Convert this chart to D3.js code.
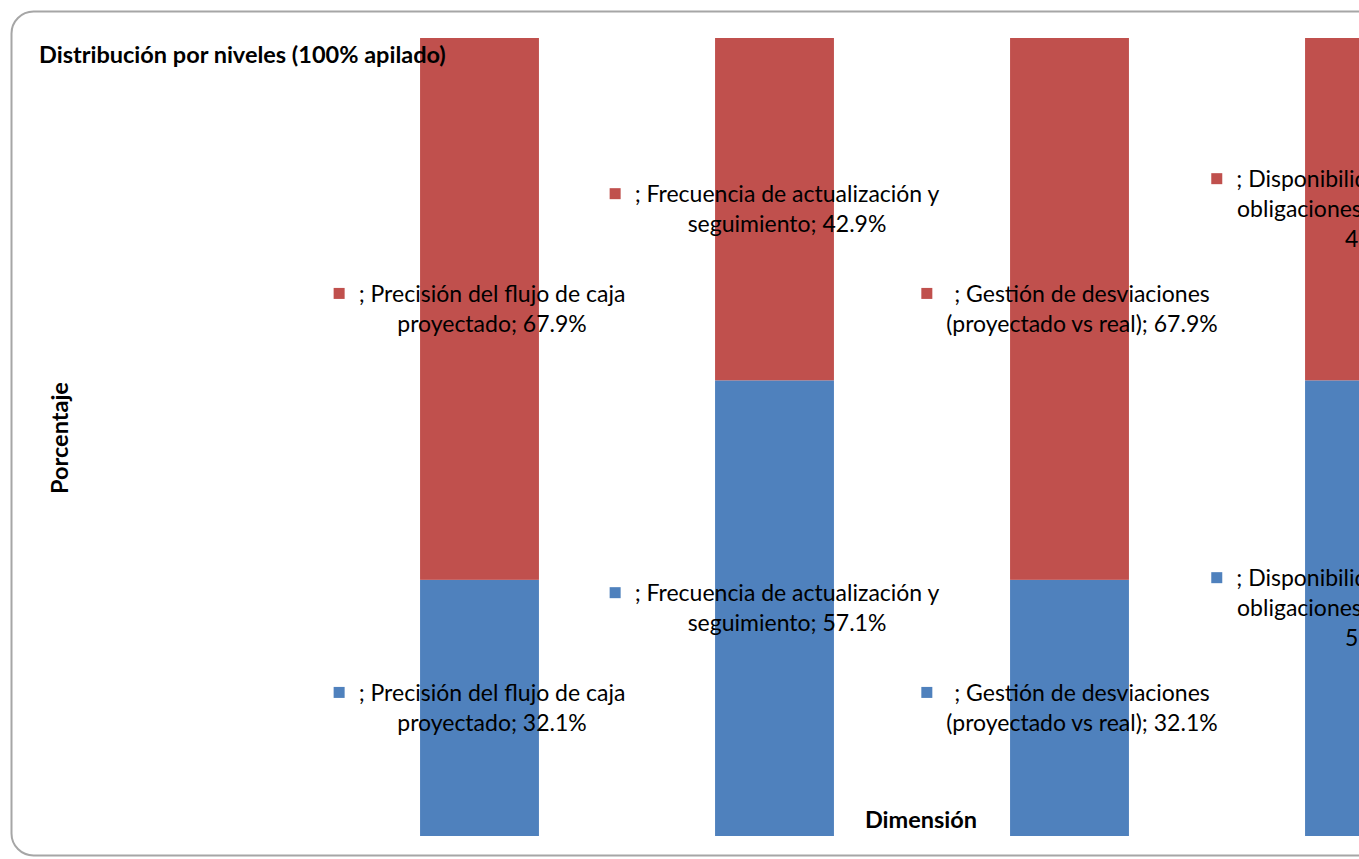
<!DOCTYPE html>
<html>
<head>
<meta charset="utf-8">
<script src="https://cdn.jsdelivr.net/npm/d3@7"></script>
<style>
  html, body { margin: 0; padding: 0; background: #fff; overflow: hidden; }
  svg { display: block; }
</style>
</head>
<body>
<div id="chart"></div>
<script>
// datos
const categories = [
  "Precisión del flujo de caja proyectado",
  "Frecuencia de actualización y seguimiento",
  "Gestión de desviaciones (proyectado vs real)",
  "Disponibilidad de caja para obligaciones de corto plazo"
];
const seriesNames = ["", ""];           // the series have no names, labels start with "; "
const lowValues = [32.1, 57.1, 32.1, 57.1];   // blue
const highValues = [67.9, 42.9, 67.9, 42.9];  // red
const colors = ["#4F81BD", "#C0504D"];

const width = 1359, height = 859;
const font = "Lato, 'Noto Sans', sans-serif";

const svg = d3.select("#chart").append("svg")
  .attr("width", width)
  .attr("height", height);

// marco redondeado
svg.append("rect")
  .attr("x", 11.5).attr("y", 11.5)
  .attr("width", 1420).attr("height", 844)
  .attr("rx", 22).attr("ry", 22)
  .attr("fill", "#fff")
  .attr("stroke", "#a6a6a6")
  .attr("stroke-width", 2);

const x = d3.scaleBand()
  .domain(categories)
  .range([332, 332 + 4 * 295])
  .paddingInner(0.597)
  .paddingOuter(0.2985);

const y = d3.scaleLinear().domain([0, 100]).range([836, 38]);

const rows = categories.map((c, i) => ({cat: c, low: lowValues[i], high: highValues[i]}));
const stack = d3.stack().keys(["low", "high"]);
const layers = stack(rows);

svg.append("g").selectAll("g")
  .data(layers)
  .join("g")
  .attr("fill", (d, i) => colors[i])
  .selectAll("rect")
  .data(d => d)
  .join("rect")
  .attr("x", d => x(d.data.cat))
  .attr("width", x.bandwidth())
  .attr("y", d => y(d[1]))
  .attr("height", d => y(d[0]) - y(d[1]));

// etiquetas de datos con clave de leyenda
const labelSize = 23;
const lineH = 30;
const maxW = 308;

const measure = svg.append("text")
  .attr("font-family", font).attr("font-size", labelSize)
  .attr("visibility", "hidden");
function textW(s) { measure.text(s); return measure.node().getComputedTextLength(); }

function wrap(str) {
  const words = str.split(" ");
  const lines = [];
  let cur = "";
  words.forEach(w => {
    const t = cur ? cur + " " + w : w;
    if (cur && textW(t) > maxW) { lines.push(cur); cur = w; } else cur = t;
  });
  lines.push(cur);
  return lines;
}

const labelG = svg.append("g");
layers.forEach((layer, si) => {
  layer.forEach(d => {
    const val = d[1] - d[0];
    const txt = seriesNames[si] + "; " + d.data.cat + "; " + val.toFixed(1) + "%";
    const lines = wrap(txt);
    const blockW = d3.max(lines, textW);
    const cx = x(d.data.cat) + x.bandwidth() / 2;
    const cy = (y(d[0]) + y(d[1])) / 2;
    const keyGap = 25;
    const total = blockW + keyGap;
    const left = cx - total / 2;
    const textCx = left + keyGap + blockW / 2;
    const top = cy - lines.length * lineH / 2;
    const g = labelG.append("g");
    g.append("rect")
      .attr("x", left).attr("y", top + lineH / 2 - 6)
      .attr("width", 11).attr("height", 11)
      .attr("fill", colors[si]);
    g.append("text")
      .attr("font-family", font).attr("font-size", labelSize)
      .attr("fill", "#000")
      .attr("text-anchor", "middle")
      .selectAll("tspan")
      .data(lines)
      .join("tspan")
      .attr("x", textCx)
      .attr("y", (l, i) => top + lineH / 2 + i * lineH)
      .attr("dy", "0.35em")
      .text(l => l);
  });
});
measure.remove();

// títulos
const titleSize = 23.5;
svg.append("text")
  .attr("x", 39).attr("y", 55).attr("dy", "0.35em")
  .attr("font-family", font).attr("font-size", titleSize).attr("font-weight", "bold")
  .text("Distribución por niveles (100% apilado)");

svg.append("text")
  .attr("transform", "translate(60,438) rotate(-90)")
  .attr("text-anchor", "middle").attr("dy", "0.35em")
  .attr("font-family", font).attr("font-size", titleSize).attr("font-weight", "bold")
  .text("Porcentaje");

svg.append("text")
  .attr("x", 921).attr("y", 820).attr("dy", "0.35em")
  .attr("text-anchor", "middle")
  .attr("font-family", font).attr("font-size", titleSize).attr("font-weight", "bold")
  .text("Dimensión");
</script>
</body>
</html>
